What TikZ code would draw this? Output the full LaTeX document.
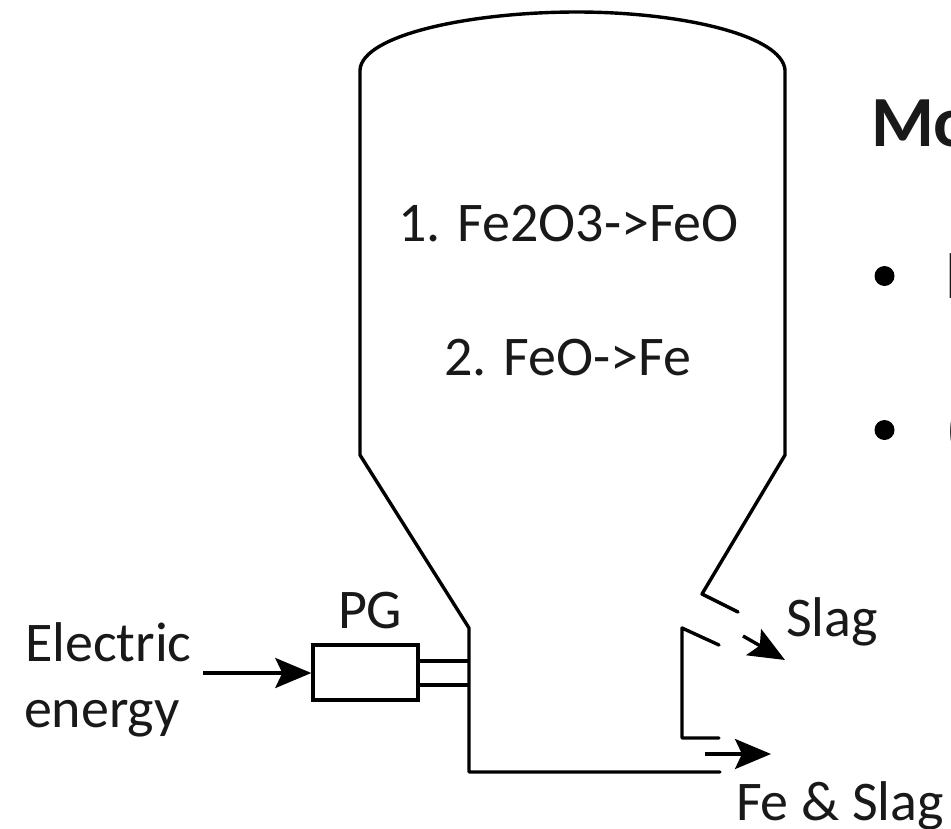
\documentclass[tikz,border=0pt]{standalone}
\usepackage{fontspec}
\setmainfont{Carlito}
\usetikzlibrary{arrows.meta}
\tikzset{
  wall/.style={line width=3.4pt,line join=round,line cap=round,black},
  flow/.style={line width=3.4pt,-{Stealth[length=36pt,width=30pt,inset=7pt]},black},
  lbl/.style={inner sep=0pt,outer sep=0pt,anchor=base west,font=\fontsize{56}{66}\selectfont,text=black!90},
  dot/.style={circle,fill=black,inner sep=0pt,minimum size=20pt},
}
\begin{document}
\begin{tikzpicture}[x=1pt,y=-1pt]
\useasboundingbox (0,0) rectangle (951,828);
\clip (0,0) rectangle (951,828);
\fill[white] (0,0) rectangle (951,828);
% vessel
\coordinate (w1) at (720,772);
\coordinate (w2) at (469,772);
\coordinate (w3) at (469,628);
\coordinate (w4) at (360,455);
\coordinate (w5) at (360,70);
\coordinate (t) at (577,12);
\coordinate (w6) at (785,70);
\coordinate (w7) at (785,455);
\coordinate (w8) at (702,594);
\coordinate (w9) at (738,612);
\draw[wall] (w1) -- (w2) -- (w3) -- (w4) -- (w5)
  .. controls (362,35) and (470,12) .. (t)
  .. controls (680,12) and (782,35) .. (w6) -- (w7) -- (w8) -- (w9);
\coordinate (s1) at (719,645);
\coordinate (s2) at (682,628);
\coordinate (s3) at (682,738);
\coordinate (s4) at (719,738);
\draw[wall] (s1) -- (s2) -- (s3) -- (s4);
% plasma generator
\node[draw=black,line width=3.4pt,minimum width=105pt,minimum height=55pt,inner sep=0pt] (pg) at (365.5,672.5) {};
\coordinate (p1) at (469,661);
\coordinate (p2) at (469,685);
\draw[wall,line cap=butt] (pg.east |- p1) -- (p1);
\draw[wall,line cap=butt] (pg.east |- p2) -- (p2);
% flows
\coordinate (e0) at (203,673);
\draw[flow] (e0) -- (pg.west |- e0);
\coordinate (a1) at (743,636);
\coordinate (a2) at (785,660);
\draw[flow] (a1) -- (a2);
\coordinate (b1) at (705,754);
\coordinate (b2) at (771,754);
\draw[flow] (b1) -- (b2);
% labels
\node[lbl] (l1) at (398,241) {1. Fe2O3->FeO};
\node[lbl] (l2) at (444,375) {2. FeO->Fe};
\node[lbl] (l3) at (338,628) {PG};
\node[lbl] (l4) at (25,661) {Electric};
\node[lbl] (l5) at (24,727) {energy};
\node[lbl] (l6) at (786,636) {Slag};
\node[lbl] (l7) at (736,820) {Fe \& Slag};
% cut-off text at right edge
\node[lbl,font=\fontsize{72}{84}\selectfont\bfseries] (h) at (871,146) {Mo};
\node[dot] (d1) at (884.5,276) {};
\node[dot] (d2) at (884.5,430) {};
\node[lbl,font=\fontsize{70}{84}\selectfont] (t1) at (944,298) {I};
\node[lbl,font=\fontsize{70}{84}\selectfont] (t2) at (945,452) {(};
\end{tikzpicture}
\end{document}
